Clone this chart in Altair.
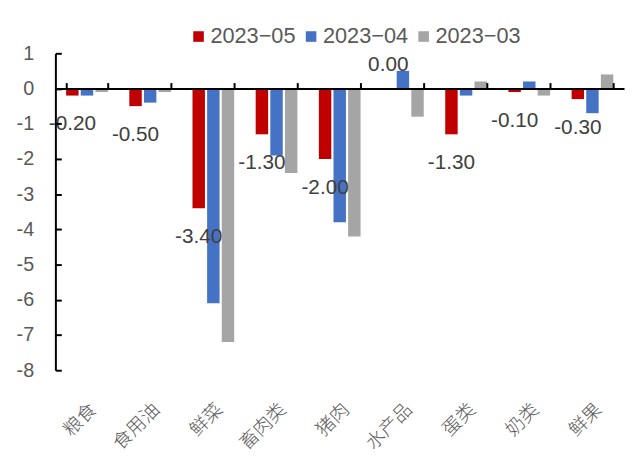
import altair as alt
import pandas as pd

categories = ["粮食", "食用油", "鲜菜", "畜肉类", "猪肉", "水产品", "蛋类", "奶类", "鲜果"]
series = ["2023−05", "2023−04", "2023−03"]
colors = ["#C00000", "#4472C4", "#A5A5A5"]
v05 = [-0.2, -0.5, -3.4, -1.3, -2.0, 0.0, -1.3, -0.1, -0.3]
v04 = [-0.2, -0.4, -6.1, -1.9, -3.8, 0.5, -0.2, 0.2, -0.7]
v03 = [-0.1, -0.1, -7.2, -2.4, -4.2, -0.8, 0.2, -0.2, 0.4]

rows = []
for s, vals in zip(series, [v05, v04, v03]):
    for c, v in zip(categories, vals):
        rows.append({"cat": c, "series": s, "v": v, "label": f"{v:.2f}"})
df = pd.DataFrame(rows)

W, H = 576, 321
ydom = [-8, 1]
zero_offset = -H * (ydom[1] - 0) / (ydom[1] - ydom[0])

xscale = alt.Scale(domain=categories, paddingInner=0.34, paddingOuter=0.17)
xoscale = alt.Scale(domain=series, paddingInner=0.15)
yscale = alt.Scale(domain=ydom, nice=False, zero=False)

base = alt.Chart(df)

bars = base.mark_bar().encode(
    x=alt.X("cat:N", scale=xscale, sort=categories,
            axis=alt.Axis(orient="bottom", title=None, domain=False, ticks=False,
                          labelAngle=-45, labelAlign="right", labelBaseline="top",
                          labelPadding=30, labelFontSize=19, labelFont="Noto Sans CJK SC",
                          labelColor="#595959", labelFontWeight=300, grid=False)),
    xOffset=alt.XOffset("series:N", scale=xoscale, sort=series),
    y=alt.Y("v:Q", scale=yscale,
            axis=alt.Axis(orient="left", title=None, values=list(range(-8, 2)),
                          domain=True, domainColor="black", domainWidth=2,
                          ticks=False, labelPadding=22, labelFontSize=20,
                          labelFont="Liberation Sans", labelColor="#595959",
                          grid=False,
                          labelExpr="datum.value < 0 ? '-' + abs(datum.value) : '' + datum.value")),
    color=alt.Color("series:N", scale=alt.Scale(domain=series, range=colors),
                    legend=alt.Legend(title=None, orient="none", legendX=134, legendY=-28,
                                      direction="horizontal", symbolType="square",
                                      symbolSize=115, symbolStrokeWidth=0,
                                      labelFontSize=22, labelFont="Liberation Sans",
                                      labelColor="#595959", columnPadding=4,
                                      labelOffset=1)),
)

neg = base.transform_filter(
    (alt.datum.series == series[0]) & (alt.datum.v < 0)
).mark_text(fontSize=21, font="Liberation Sans", color="#404040", baseline="middle", dy=29).encode(
    x=alt.X("cat:N", scale=xscale, sort=categories,
            axis=alt.Axis(orient="top", offset=zero_offset, title=None, labels=False,
                          domain=True, domainColor="black", domainWidth=2,
                          ticks=True, tickBand="extent", tickSize=6, tickColor="black",
                          tickWidth=2, grid=False, zindex=1)),
    xOffset=alt.XOffset("series:N", scale=xoscale, sort=series),
    y=alt.Y("v:Q", scale=yscale,
            axis=alt.Axis(orient="right", offset=-W, title=None, labels=False,
                          values=list(range(-8, 2)), domain=False, ticks=True,
                          tickSize=6, tickColor="black", tickWidth=2, grid=False, zindex=1)),
    text="label:N",
)

pos = base.transform_filter(
    (alt.datum.series == series[0]) & (alt.datum.v >= 0)
).mark_text(fontSize=21, font="Liberation Sans", color="#404040", baseline="middle", dy=-24).encode(
    x=alt.X("cat:N", scale=xscale, sort=categories, axis=None),
    xOffset=alt.XOffset("series:N", scale=xoscale, sort=series),
    y=alt.Y("v:Q", scale=yscale, axis=None),
    text="label:N",
)

chart = alt.layer(bars, neg, pos).resolve_axis(x="independent", y="independent").properties(
    width=W, height=H,
    autosize=alt.AutoSizeParams(type="none"),
    padding={"left": 48, "top": 43, "right": 3, "bottom": 85},
    background="white",
).configure_view(stroke=None)

chart.save("out.html", embed_options={"renderer": "svg", "actions": False})
